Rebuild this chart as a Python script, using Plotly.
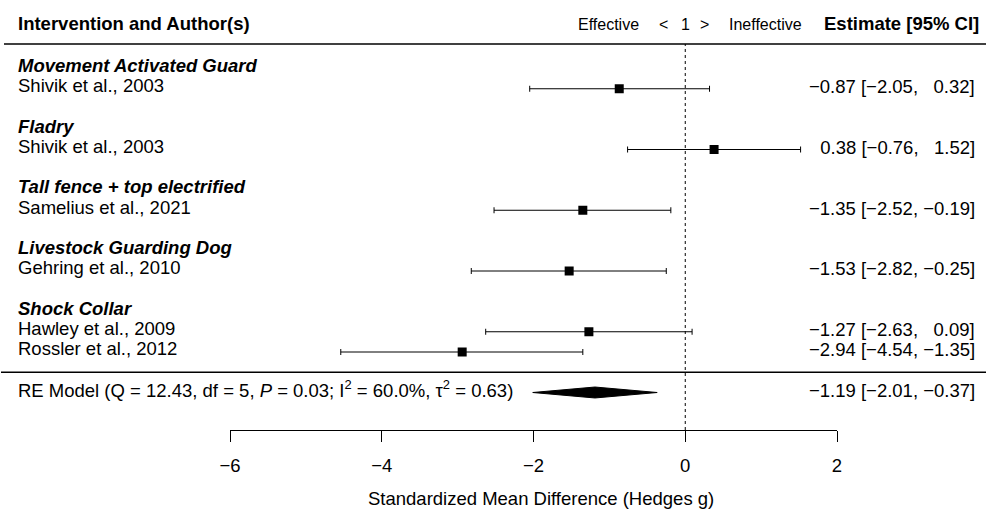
import plotly.graph_objects as go

# ---------------- data ----------------
groups = ["Movement Activated Guard", "Fladry", "Tall fence + top electrified",
          "Livestock Guarding Dog", "Shock Collar"]
studies = [["Shivik et al., 2003"], ["Shivik et al., 2003"], ["Samelius et al., 2021"],
           ["Gehring et al., 2010"], ["Hawley et al., 2009", "Rossler et al., 2012"]]
estimates = [[-0.87], [0.38], [-1.35], [-1.53], [-1.27, -2.94]]
ci_low = [[-2.05], [-0.76], [-2.52], [-2.82], [-2.63, -4.54]]
ci_high = [[0.32], [1.52], [-0.19], [-0.25], [0.09, -1.35]]

re_est, re_low, re_high = -1.19, -2.01, -0.37
re_Q, re_df, re_P, re_I2, re_tau2 = "12.43", "5", "0.03", "60.0%", "0.63"

tick_values = [-6, -4, -2, 0, 2]
x_title = "Standardized Mean Difference (Hedges g)"

# ---------------- layout helpers ----------------
W, H = 987, 516
FONT = "Liberation Sans, Arial, Helvetica, sans-serif"
FS = 18.5
FS_SMALL = 16
ROW_PX = 20.25
ROW1_PX = 352.0


def py2row(py):
    return 1 + (ROW1_PX - py) / ROW_PX


def px2paper(px):
    return px / W


def fmt(v):
    s = f"{abs(v):.2f}"
    return ("\u2212" + s) if v < 0 else ("\u2007" + s)


# assign rows bottom-up
rows_study, rows_header = [], []
r = 1
for gi in reversed(range(len(groups))):
    rs = []
    for si in reversed(range(len(studies[gi]))):
        rs.append(r)
        r += 1
    rows_study.insert(0, list(reversed(rs)))
    rows_header.insert(0, r)
    r += 2

fig = go.Figure()

xs, ys, ep, em = [], [], [], []
annotations = []
for gi, g in enumerate(groups):
    annotations.append(dict(x=px2paper(16), xref="paper", y=rows_header[gi] + 0.15, yref="y",
                            text=f"<b><i>{g}</i></b>", xanchor="left", yanchor="middle",
                            showarrow=False, font=dict(size=FS, family=FONT, color="black")))
    for si, s in enumerate(studies[gi]):
        row = rows_study[gi][si]
        e, lo, hi = estimates[gi][si], ci_low[gi][si], ci_high[gi][si]
        xs.append(e); ys.append(row); ep.append(hi - e); em.append(e - lo)
        annotations.append(dict(x=px2paper(16), xref="paper", y=row + 0.15, yref="y",
                                text=s, xanchor="left", yanchor="middle", showarrow=False,
                                font=dict(size=FS, family=FONT, color="black")))
        annotations.append(dict(x=px2paper(977), xref="paper", y=row + 0.1, yref="y",
                                text=f"{fmt(e)} [{fmt(lo)},\u00a0{fmt(hi)}]",
                                xanchor="right", yanchor="middle", showarrow=False,
                                font=dict(size=FS, family=FONT, color="black")))

fig.add_trace(go.Scatter(
    x=xs, y=ys, mode="markers",
    marker=dict(symbol="square", size=9, color="black"),
    error_x=dict(type="data", symmetric=False, array=ep, arrayminus=em,
                 thickness=1, width=3, color="black"),
    showlegend=False, hoverinfo="skip"))

# RE model diamond
re_row = -1
hh = 0.27
fig.add_trace(go.Scatter(
    x=[re_low, re_est, re_high, re_est, re_low],
    y=[re_row, re_row + hh, re_row, re_row - hh, re_row],
    mode="lines", fill="toself", fillcolor="black",
    line=dict(color="black", width=1), showlegend=False, hoverinfo="skip"))

annotations.append(dict(
    x=px2paper(16), xref="paper", y=re_row + 0.15, yref="y",
    text=(f"RE Model (Q = {re_Q}, df = {re_df}, <i>P</i> = {re_P}; "
          f"I<sup>2</sup> = {re_I2}, \u03c4<sup>2</sup> = {re_tau2})"),
    xanchor="left", yanchor="middle", showarrow=False,
    font=dict(size=FS, family=FONT, color="black")))
annotations.append(dict(
    x=px2paper(977), xref="paper", y=re_row + 0.1, yref="y",
    text=f"{fmt(re_est)} [{fmt(re_low)}, {fmt(re_high)}]",
    xanchor="right", yanchor="middle", showarrow=False,
    font=dict(size=FS, family=FONT, color="black")))

# header row
hdr_row = py2row(23)
small = dict(size=FS_SMALL, family=FONT, color="black")
annotations += [
    dict(x=px2paper(16), xref="paper", y=hdr_row, yref="y",
         text="<b>Intervention and Author(s)</b>", xanchor="left", yanchor="middle",
         showarrow=False, font=dict(size=FS, family=FONT, color="black")),
    dict(x=px2paper(981), xref="paper", y=hdr_row, yref="y",
         text="<b>Estimate [95% CI]</b>", xanchor="right", yanchor="middle",
         showarrow=False, font=dict(size=FS, family=FONT, color="black")),
    dict(x=px2paper(641), xref="paper", y=hdr_row - 0.05, yref="y",
         text="Effective", xanchor="right", yanchor="middle", showarrow=False, font=small),
    dict(x=px2paper(663), xref="paper", y=hdr_row - 0.05, yref="y",
         text="<", xanchor="center", yanchor="middle", showarrow=False, font=small),
    dict(x=0, xref="x", y=hdr_row - 0.05, yref="y",
         text="1", xanchor="center", yanchor="middle", showarrow=False, font=small),
    dict(x=px2paper(704), xref="paper", y=hdr_row - 0.05, yref="y",
         text=">", xanchor="center", yanchor="middle", showarrow=False, font=small),
    dict(x=px2paper(727), xref="paper", y=hdr_row - 0.05, yref="y",
         text="Ineffective", xanchor="left", yanchor="middle", showarrow=False, font=small),
    dict(x=px2paper(541), xref="paper", y=py2row(498), yref="y",
         text=x_title, xanchor="center", yanchor="middle",
         showarrow=False, font=dict(size=FS, family=FONT, color="black")),
]

shapes = [
    dict(type="line", xref="paper", yref="y", x0=px2paper(4), x1=px2paper(986),
         y0=py2row(44), y1=py2row(44), line=dict(color="black", width=1.3)),
    dict(type="line", xref="paper", yref="y", x0=px2paper(1), x1=px2paper(986),
         y0=0, y1=0, line=dict(color="black", width=1.3)),
    dict(type="line", xref="x", yref="y", x0=0, x1=0,
         y0=py2row(430), y1=py2row(44), line=dict(color="black", width=1, dash="dot")),
]

axis_py = 430
fig.update_layout(
    width=W, height=H,
    margin=dict(l=0, r=0, t=0, b=0, autoexpand=False),
    paper_bgcolor="white", plot_bgcolor="white",
    font=dict(family=FONT, size=FS, color="black"),
    xaxis=dict(domain=[px2paper(230), px2paper(837)], range=[-6, 2],
               anchor="free", position=1 - axis_py / H,
               showline=True, linecolor="black", linewidth=1,
               ticks="outside", ticklen=11, tickwidth=1, tickcolor="black",
               tickvals=tick_values,
               ticktext=[("\u2212" + str(abs(v))) if v < 0 else str(v) for v in tick_values],
               tickfont=dict(size=FS, family=FONT, color="black"),
               ticklabelstandoff=8, automargin=False,
               showgrid=False, zeroline=False, fixedrange=True),
    yaxis=dict(domain=[0, 1], range=[py2row(H), py2row(0)], visible=False,
               showgrid=False, zeroline=False, fixedrange=True, automargin=False),
    annotations=annotations, shapes=shapes, showlegend=False,
)

post = ("document.body.style.margin='0';document.body.style.padding='0';"
        "document.body.style.overflow='hidden';"
        "document.documentElement.style.overflow='hidden';"
        "var gd=document.getElementById('{plot_id}');"
        "Plotly.relayout(gd,{width:%d,height:%d});" % (W, H))

fig.write_html("out.html", post_script=post,
               config={"responsive": False, "displayModeBar": False, "staticPlot": True})
